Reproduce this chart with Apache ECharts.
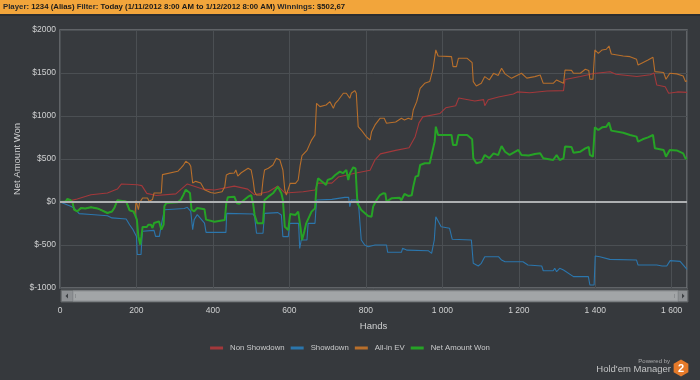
<!DOCTYPE html>
<html>
<head>
<meta charset="utf-8">
<script src="https://cdn.jsdelivr.net/npm/echarts@6/dist/echarts.min.js"></script>
<style>
html,body{margin:0;padding:0;background:#36393d;}
#chart{width:700px;height:380px;}
</style>
</head>
<body>
<div id="chart"></div>
<script>
// Series names
const seriesNames = ['Non Showdown', 'Showdown', 'All-in EV', 'Net Amount Won'];
// Axis ticks
const xTicks = [0, 200, 400, 600, 800, 1000, 1200, 1400, 1600];
const yTicks = [-1000, -500, 0, 500, 1000, 1500, 2000];

// [hand, $]
const nonShowdown = [[0,0],[28,16],[45,35],[81,85],[124,105],[150,150],[161,210],[202,200],[214,190],[227,100],[252,75],[303,95],[333,210],[373,150],[404,140],[456,185],[491,150],[508,85],[545,120],[570,185],[588,105],[636,120],[667,140],[675,220],[711,220],[728,290],[771,335],[811,370],[824,490],[838,560],[878,600],[913,630],[929,760],[939,920],[949,990],[994,1030],[1009,1095],[1035,1120],[1043,1210],[1085,1175],[1108,1190],[1111,1120],[1120,1190],[1147,1220],[1186,1255],[1196,1280],[1229,1270],[1274,1290],[1317,1295],[1321,1425],[1361,1460],[1396,1495],[1439,1515],[1454,1485],[1509,1460],[1544,1480],[1554,1500],[1561,1360],[1583,1340],[1592,1265],[1615,1280],[1640,1275]];

const showdown = [[0,0],[28,-50],[37,-70],[50,-135],[81,-145],[124,-160],[136,-185],[173,-198],[182,-265],[190,-315],[200,-400],[202,-610],[212,-610],[214,-440],[216,-340],[246,-330],[250,-400],[260,-400],[264,-290],[273,-90],[325,-75],[333,-62],[342,-108],[347,-322],[351,-205],[359,-147],[378,-245],[382,-353],[434,-353],[436,-132],[505,-140],[509,-170],[514,-364],[531,-364],[535,-132],[570,-124],[579,-151],[583,-403],[597,-403],[601,-248],[624,-248],[627,-540],[631,-442],[646,-442],[649,-248],[667,-248],[671,23],[711,31],[745,54],[755,54],[758,-54],[762,23],[780,23],[788,-442],[797,-500],[806,-520],[824,-500],[854,-500],[857,-585],[893,-585],[896,-539],[908,-560],[963,-566],[972,-597],[979,-442],[983,-171],[990,-229],[997,-287],[1019,-306],[1026,-434],[1076,-442],[1081,-713],[1094,-744],[1102,-713],[1111,-636],[1147,-636],[1155,-675],[1164,-694],[1211,-694],[1224,-733],[1260,-744],[1264,-799],[1290,-799],[1294,-771],[1299,-810],[1307,-771],[1317,-790],[1343,-868],[1382,-868],[1386,-965],[1397,-965],[1400,-628],[1412,-636],[1438,-667],[1508,-675],[1512,-733],[1561,-733],[1575,-744],[1587,-744],[1596,-682],[1622,-690],[1640,-783]];

const allInEV = [[0,0],[15,5],[19,35],[28,20],[33,-10],[37,-89],[45,-108],[55,-70],[66,-75],[81,-62],[98,-75],[111,-100],[124,-128],[136,-110],[142,-70],[150,19],[167,10],[173,5],[178,-50],[182,-97],[192,-110],[196,-147],[199,16],[205,-89],[208,-10],[212,-20],[216,47],[229,47],[233,10],[242,30],[246,105],[265,105],[268,318],[273,337],[308,357],[316,395],[323,430],[329,473],[338,446],[342,415],[347,221],[355,240],[368,221],[378,143],[394,110],[405,101],[424,120],[431,178],[435,314],[444,333],[456,338],[460,372],[465,302],[474,340],[492,392],[500,372],[505,256],[509,120],[514,81],[527,81],[531,256],[535,372],[545,392],[557,430],[566,508],[575,489],[583,372],[588,140],[592,81],[597,62],[602,217],[616,217],[623,256],[628,420],[633,540],[646,600],[658,720],[667,780],[671,1148],[675,1167],[680,1109],[696,1128],[706,1167],[715,1089],[720,1148],[728,1186],[741,1264],[749,1264],[754,1283],[758,1206],[762,1264],[771,1295],[775,1264],[780,876],[788,837],[801,760],[811,721],[815,818],[824,896],[837,973],[848,973],[854,915],[878,930],[893,973],[901,954],[911,973],[920,960],[924,1070],[933,1167],[942,1322],[954,1380],[967,1400],[976,1555],[983,1768],[989,1698],[1024,1690],[1028,1574],[1037,1574],[1042,1671],[1065,1671],[1072,1644],[1078,1620],[1081,1400],[1089,1349],[1102,1380],[1111,1458],[1123,1420],[1134,1496],[1146,1470],[1155,1555],[1164,1490],[1181,1438],[1199,1480],[1207,1497],[1221,1440],[1242,1458],[1256,1477],[1264,1380],[1290,1380],[1299,1419],[1307,1400],[1317,1380],[1321,1535],[1338,1530],[1343,1497],[1361,1497],[1374,1543],[1383,1530],[1386,1427],[1394,1427],[1399,1768],[1408,1729],[1418,1768],[1429,1776],[1436,1814],[1442,1721],[1473,1698],[1491,1690],[1508,1659],[1512,1593],[1524,1620],[1538,1651],[1551,1683],[1556,1516],[1579,1505],[1585,1427],[1595,1497],[1613,1490],[1630,1466],[1636,1400],[1640,1410]];

const netWon = [[0,0],[15,5],[19,35],[28,20],[33,-10],[37,-89],[45,-108],[55,-70],[66,-75],[81,-62],[98,-75],[111,-100],[124,-128],[136,-110],[142,-70],[150,19],[167,10],[173,5],[178,-50],[182,-97],[192,-110],[196,-147],[201,-205],[205,-400],[210,-496],[213,-400],[216,-290],[227,-290],[231,-264],[238,-264],[242,-302],[246,-244],[259,-225],[265,-322],[271,-264],[273,-50],[278,-12],[308,-4],[316,27],[323,85],[329,143],[334,125],[340,105],[344,-89],[351,-108],[359,-70],[378,-85],[382,-205],[404,-229],[431,-209],[435,-16],[439,54],[456,62],[463,-16],[469,-20],[492,62],[500,81],[505,-16],[509,-151],[516,-248],[531,-248],[535,23],[545,62],[557,101],[570,178],[579,101],[583,23],[588,-287],[597,-326],[602,-140],[616,-150],[623,-112],[630,-326],[633,-442],[638,-364],[644,-248],[658,-112],[667,-74],[671,178],[675,275],[686,236],[696,198],[700,256],[711,275],[720,314],[732,353],[740,335],[749,372],[754,256],[758,330],[767,403],[773,390],[778,-16],[788,-93],[806,-163],[815,-171],[819,-54],[828,23],[837,81],[845,101],[851,98],[854,4],[858,15],[867,43],[888,50],[893,20],[901,93],[911,70],[920,78],[924,178],[930,295],[937,305],[942,430],[954,450],[967,450],[976,624],[980,702],[983,876],[989,779],[1024,779],[1028,663],[1037,663],[1042,779],[1065,779],[1072,752],[1078,730],[1081,508],[1089,450],[1102,465],[1111,547],[1123,510],[1134,566],[1146,545],[1155,651],[1164,585],[1176,547],[1181,527],[1199,605],[1207,547],[1226,540],[1242,558],[1256,566],[1264,508],[1290,488],[1299,547],[1307,488],[1317,508],[1321,644],[1338,640],[1343,574],[1361,585],[1374,624],[1383,640],[1386,547],[1394,527],[1399,868],[1408,837],[1418,868],[1429,876],[1436,923],[1442,830],[1473,806],[1491,779],[1508,760],[1512,702],[1524,729],[1538,752],[1551,779],[1556,624],[1579,605],[1585,527],[1595,605],[1613,600],[1630,566],[1636,508],[1640,503]];

const colors = ['#a3383b', '#2b76ad', '#b86f2b', '#26a326'];
const FONT = '"Liberation Sans", Arial, sans-serif';

const chart = echarts.init(document.getElementById('chart'), null, {renderer: 'canvas'});

function xFmt(v) {
  if (xTicks.indexOf(v) < 0) return '';
  if (v >= 1000) return Math.floor(v / 1000) + ' ' + String(v % 1000).padStart(3, '0');
  return String(v);
}

const hexPts = [];
for (let i = 0; i < 6; i++) {
  const a = Math.PI / 6 + i * Math.PI / 3;
  hexPts.push([681 + 8.5 * Math.cos(a), 368 + 8.5 * Math.sin(a)]);
}

chart.setOption({
  backgroundColor: '#36393d',
  animation: false,
  color: colors,
  textStyle: {fontFamily: FONT},
  title: {
    text: '{l|Player:} {b|1234 (Alias)} {l|Filter:} {b|Today (1/11/2012 8:00 AM to 1/12/2012 8:00 AM)} {l|Winnings:} {b|$502,67}',
    left: 3, top: 2.5, padding: 0,
    textStyle: {
      fontSize: 7.8,
      rich: {
        l: {fontSize: 7.8, color: '#2a2a2a', fontFamily: FONT},
        b: {fontSize: 7.8, color: '#1a1a1a', fontWeight: 'bold', fontFamily: FONT}
      }
    }
  },
  grid: {
    left: 60, right: 13, top: 30, bottom: 92,
    show: true, backgroundColor: '#373a3e', borderColor: '#6f7276', borderWidth: 1.5
  },
  legend: {
    data: seriesNames,
    top: 339, left: 'center',
    icon: 'rect', itemWidth: 13, itemHeight: 3, itemGap: 6,
    textStyle: {color: '#c9cacb', fontSize: 7.8, fontFamily: FONT, padding: [0, 0, 0, 2]}
  },
  xAxis: {
    type: 'value', min: 0, max: 1640, interval: 200,
    name: 'Hands', nameLocation: 'middle', nameGap: 33,
    nameTextStyle: {color: '#cfd0d1', fontSize: 9.5, fontFamily: FONT},
    axisLine: {show: false}, axisTick: {show: false},
    axisLabel: {color: '#cfd0d1', fontSize: 8.5, margin: 18, formatter: xFmt, showMaxLabel: false},
    splitLine: {show: true, lineStyle: {color: '#4b4f53', width: 1}}
  },
  yAxis: {
    type: 'value', min: -1000, max: 2000, interval: 500,
    name: 'Net Amount Won', nameLocation: 'middle', nameGap: 38, nameMoveOverlap: false,
    nameTextStyle: {color: '#cfd0d1', fontSize: 9.5, fontFamily: FONT},
    axisLine: {show: false}, axisTick: {show: false},
    axisLabel: {color: '#cfd0d1', fontSize: 8.5, margin: 4, formatter: v => '$' + v},
    splitLine: {show: true, lineStyle: {color: '#4b4f53', width: 1}}
  },
  series: [
    {name: seriesNames[0], type: 'line', data: nonShowdown, showSymbol: false, symbol: 'none',
     lineStyle: {width: 1.1, color: colors[0]},
     markLine: {silent: true, symbol: 'none', label: {show: false},
       lineStyle: {color: '#aeb0b2', width: 2, type: 'solid'}, data: [{yAxis: 0}]}},
    {name: seriesNames[1], type: 'line', data: showdown, showSymbol: false, symbol: 'none',
     lineStyle: {width: 1.1, color: colors[1]}},
    {name: seriesNames[2], type: 'line', data: allInEV, showSymbol: false, symbol: 'none',
     lineStyle: {width: 1.1, color: colors[2]}},
    {name: seriesNames[3], type: 'line', data: netWon, showSymbol: false, symbol: 'none',
     lineStyle: {width: 2, color: colors[3]}}
  ],
  graphic: [
    {type: 'rect', shape: {x: 0, y: 0, width: 700, height: 14}, style: {fill: '#f2a53b'}, z: -1},
    {type: 'rect', shape: {x: 0, y: 14, width: 700, height: 2}, style: {fill: '#2b2d30'}, z: -1},
    // scrollbar
    {type: 'rect', shape: {x: 61, y: 290, width: 627, height: 12}, style: {fill: '#7b7e81', stroke: '#5d6063', lineWidth: 1}, z: 10},
    {type: 'rect', shape: {x: 73, y: 291, width: 605, height: 10}, style: {fill: '#a2a5a7', stroke: '#8c8f92', lineWidth: 1}, z: 11},
    {type: 'rect', shape: {x: 62, y: 291, width: 10, height: 10}, style: {fill: '#8d9093'}, z: 11},
    {type: 'rect', shape: {x: 679, y: 291, width: 8, height: 10}, style: {fill: '#8d9093'}, z: 11},
    {type: 'polygon', shape: {points: [[68, 293.5], [68, 298.5], [65.5, 296]]}, style: {fill: '#3c3f42'}, z: 12},
    {type: 'polygon', shape: {points: [[682, 293.5], [682, 298.5], [684.5, 296]]}, style: {fill: '#3c3f42'}, z: 12},
    {type: 'rect', shape: {x: 75, y: 294, width: 1, height: 4}, style: {fill: '#8a8d90'}, z: 12},
    {type: 'rect', shape: {x: 674, y: 294, width: 1, height: 4}, style: {fill: '#8a8d90'}, z: 12},
    // logo
    {type: 'text', style: {text: 'Powered by', x: 670, y: 361, fill: '#a8a9aa', fontSize: 6, fontFamily: FONT, textAlign: 'right', textVerticalAlign: 'middle'}},
    {type: 'text', style: {text: "Hold'em Manager", x: 671, y: 369, fill: '#c2c3c4', fontSize: 9.5, fontFamily: FONT, textAlign: 'right', textVerticalAlign: 'middle'}},
    {type: 'polygon', shape: {points: hexPts}, style: {fill: '#e57a2a'}},
    {type: 'text', style: {text: '2', x: 681, y: 368.5, fill: '#ffffff', fontSize: 11, fontWeight: 'bold', fontFamily: FONT, textAlign: 'center', textVerticalAlign: 'middle'}}
  ]
});
</script>
</body>
</html>
